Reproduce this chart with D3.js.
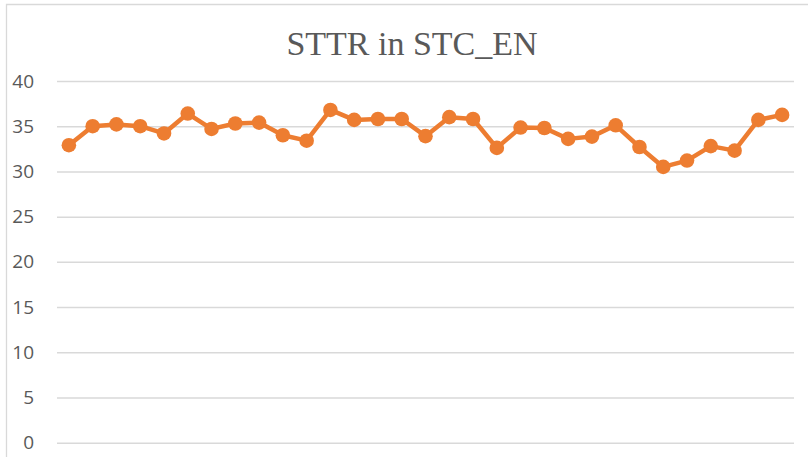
<!DOCTYPE html>
<html>
<head>
<meta charset="utf-8">
<script src="https://cdn.jsdelivr.net/npm/d3@7"></script>
<style>
  body { margin: 0; background: #fff; }
  svg { display: block; }
</style>
</head>
<body>
<svg width="808" height="457"></svg>
<script>
// data
const categories = d3.range(1, 32);
const sttr = [32.9, 35.0, 35.2, 35.0, 34.2, 36.4, 34.7, 35.3, 35.4, 34.0,
              33.4, 36.8, 35.7, 35.8, 35.8, 33.9, 36.0, 35.8, 32.6, 34.85,
              34.8, 33.6, 33.85, 35.1, 32.7, 30.5, 31.2, 32.8, 32.3, 35.7, 36.25];
const yTicks = [0, 5, 10, 15, 20, 25, 30, 35, 40];
const title = 'STTR in STC_EN';

const svg = d3.select('svg');
const width = +svg.attr('width');

// plot area
const plot = {left: 57, right: 794, top: 81, bottom: 442.7};

const data = categories.map((c, i) => ({cat: c, value: sttr[i]}));

// chart frame (cut off at right and bottom)
svg.append('path')
    .attr('d', `M6.5,457 V4.5 H${width}`)
    .attr('fill', 'none')
    .attr('stroke', '#d9d9d9')
    .attr('stroke-width', 1.3);

// title
svg.append('text')
    .attr('x', 412)
    .attr('y', 55)
    .attr('text-anchor', 'middle')
    .attr('font-family', '"Liberation Serif", "Times New Roman", serif')
    .attr('font-size', 34)
    .attr('fill', '#595959')
    .text(title);

const x = d3.scaleBand()
    .domain(categories)
    .range([plot.left, plot.right]);

const y = d3.scaleLinear()
    .domain([0, 40])
    .range([plot.bottom, plot.top]);

// y axis with gridlines
const yAxis = svg.append('g')
    .attr('transform', `translate(${plot.left},0)`)
    .call(d3.axisLeft(y)
        .tickValues(yTicks)
        .tickSize(-(plot.right - plot.left))
        .tickPadding(23));

yAxis.select('.domain').remove();
yAxis.selectAll('.tick line')
    .attr('stroke', '#d9d9d9')
    .attr('stroke-width', 1.5);
yAxis.selectAll('.tick text')
    .attr('fill', '#595959')
    .attr('font-family', '"Open Sans", sans-serif')
    .attr('font-size', 19);

// the line
const line = d3.line()
    .x(d => x(d.cat) + x.bandwidth() / 2)
    .y(d => y(d.value));

svg.append('path')
    .datum(data)
    .attr('d', line)
    .attr('fill', 'none')
    .attr('stroke', '#ed7d31')
    .attr('stroke-width', 4.5)
    .attr('stroke-linejoin', 'round');

// markers
svg.selectAll('circle').data(data)
    .enter()
    .append('circle')
        .attr('cx', d => x(d.cat) + x.bandwidth() / 2)
        .attr('cy', d => y(d.value))
        .attr('r', 7.3)
        .attr('fill', '#ed7d31');
</script>
</body>
</html>
